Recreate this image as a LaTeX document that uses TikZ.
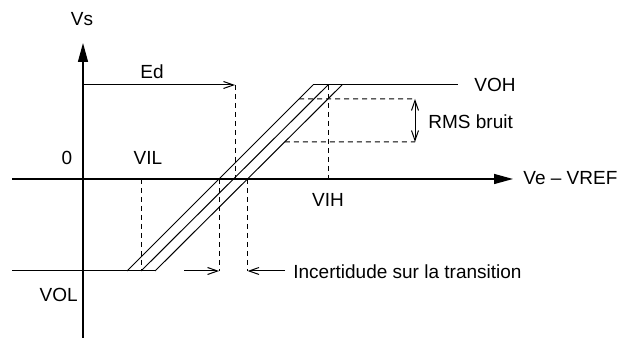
\documentclass[tikz,border=0pt]{standalone}
\usepackage{fontspec}
\setmainfont{Liberation Sans}
\usetikzlibrary{arrows.meta,calc}
\tikzset{
  axis/.style={line width=0.7pt,-{Triangle[length=9.5pt,width=5pt]}},
  curve/.style={line width=0.5pt},
  guide/.style={line width=0.5pt,dash pattern=on 2.5pt off 2pt},
  dim/.style={line width=0.5pt,-{Straight Barb[length=5pt,width=3.5pt]}},
  dimboth/.style={line width=0.5pt,{Straight Barb[length=5pt,width=3.5pt]}-{Straight Barb[length=5pt,width=3.5pt]}},
  lbl/.style={font=\fontsize{9.5}{11}\selectfont,inner sep=0pt},
}
\begin{document}
\begin{tikzpicture}[x=0.5pt,y=-0.5pt]
  \useasboundingbox (0,0) rectangle (617,340);
  % axes
  \coordinate (o) at (83,179);
  \coordinate (xa) at (12,179);  \coordinate (xb) at (513,179);
  \coordinate (ya) at (83,338);  \coordinate (yb) at (83,43);
  \draw[axis] (xa) -- (xb);
  \draw[axis] (ya) -- (yb);
  % transfer characteristic, three parallel transitions
  \coordinate (l0) at (12,271);  \coordinate (h0) at (458,85);
  \coordinate (b1) at (127,271); \coordinate (b2) at (141,271); \coordinate (b3) at (155,271);
  \coordinate (t1) at (313,85);  \coordinate (t2) at (328,85);  \coordinate (t3) at (342,85);
  \draw[curve] (l0) -- (b3);
  \draw[curve] (t1) -- (h0);
  \foreach \i in {1,2,3} \draw[curve] (b\i) -- (t\i);
  % Ed
  \coordinate (ed) at (235,85);
  \draw[dim] (o |- ed) -- (ed);
  \draw[guide] (ed) -- (ed |- o);
  % VIL / VIH
  \draw[guide] (b2 |- o) -- (b2);
  \draw[guide] (t2) -- (t2 |- o);
  % uncertainty on the transition
  \coordinate (c1) at ($(b1)!0.495!(t1)$);
  \coordinate (c3) at ($(b3)!0.495!(t3)$);
  \draw[guide] (c1) -- (c1 |- b1);
  \draw[guide] (c3) -- (c3 |- b1);
  \coordinate (u1) at (184,271); \coordinate (u3) at (285,271);
  \draw[dim] (u1) -- (c1 |- b1);
  \draw[dim] (u3) -- (c3 |- b1);
  % noise band
  \coordinate (r1) at (415,99);  \coordinate (r2) at (415,142);
  \draw[guide] ($(b1)!0.925!(t1)$) -- (r1);
  \draw[guide] ($(b3)!0.694!(t3)$) -- (r2);
  \draw[dimboth] (r1) -- (r2);
  % labels
  \node[lbl] (vs) at (82,19) {Vs};
  \node[lbl] (edl) at (152,72) {Ed};
  \node[lbl] (zero) at (67,158) {0};
  \node[lbl] (vil) at (148,158) {VIL};
  \node[lbl] (vih) at (328,200) {VIH};
  \node[lbl,anchor=west] (voh) at (474,85) {VOH};
  \node[lbl,anchor=west] (rms) at (428,122) {RMS bruit};
  \node[lbl,anchor=west] (xl) at (523,178) {Ve -- VREF};
  \node[lbl,anchor=east] (vol) at (78,295) {VOL};
  \node[lbl,anchor=west] (inc) at (293,272) {Incertidude sur la transition};
\end{tikzpicture}
\end{document}
